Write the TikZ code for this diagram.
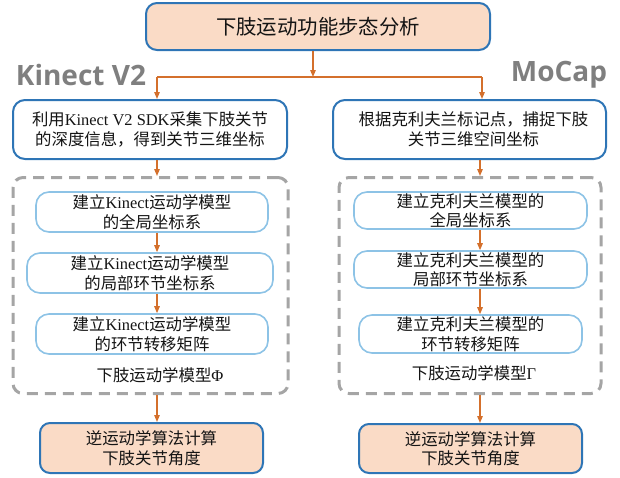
\documentclass[tikz,border=0pt]{standalone}
\usepackage{fontspec}
\setmainfont{Liberation Serif}
\newfontfamily\cjk{Noto Sans CJK SC}
\newfontfamily\lblfont{Open Sans}
\newcommand\latn[1]{{\rmfamily #1}}
\usetikzlibrary{arrows.meta}
\definecolor{arrorange}{HTML}{D4702C}
\definecolor{boxblue}{HTML}{2E75B6}
\definecolor{lightblue}{HTML}{8DC3E6}
\definecolor{peach}{HTML}{FADBC6}
\definecolor{dashgray}{HTML}{A5A5A5}
\definecolor{lblgray}{HTML}{7F7F7F}
\begin{document}
\begin{tikzpicture}[x=1pt,y=-1pt,
  txt/.style={font=\cjk\fontsize{16.4}{19.5}\selectfont, align=center, inner sep=0pt, text=black!92},
  peachbox/.style={txt, draw=boxblue, line width=2pt, fill=peach, rounded corners=11pt},
  whitebox/.style={txt, draw=boxblue, line width=2pt, fill=white, rounded corners=12pt},
  innerbox/.style={txt, draw=lightblue, line width=1.6pt, fill=white, rounded corners=13pt},
  groupbox/.style={draw=dashgray, line width=3pt, dash pattern=on 11pt off 7pt, rounded corners=10pt, inner sep=0pt},
  lbl/.style={font=\lblfont\bfseries\fontsize{28}{30}\selectfont, text=lblgray, inner sep=0pt},
  arr/.style={draw=arrorange, line width=1.3pt, -{Triangle[length=7pt,width=5.5pt]}},
  ln/.style={draw=arrorange, line width=1.3pt}
]
\useasboundingbox (0,0) rectangle (620,477);

% top
\node[peachbox, minimum width=344pt, minimum height=47pt, font=\cjk\fontsize{20.4}{24}\selectfont] (top) at (318,26.5) {下肢运动功能步态分析};

\node[lbl] (lk) at (81,75) {Kinect V2};
\node[lbl] (lm) at (559,75) {MoCap};

% second row
\node[whitebox, minimum width=274pt, minimum height=59pt] (kb) at (150,129.5)
  {利用\latn{Kinect V2 SDK}采集下肢关节\\的深度信息，得到关节三维坐标};
\node[whitebox, minimum width=273pt, minimum height=59pt] (mb) at (469.5,129.5)
  {\hspace{8pt}根据克利夫兰标记点，捕捉下肢\\\hspace{8pt}关节三维空间坐标};

% junction
\coordinate (jt) at (313,77);
\coordinate (jl) at (157,77);
\coordinate (jr) at (482,77);
\draw[arr] (top.south -| jt) -- (jt);
\draw[ln] (jl) -- (jr);
\draw[arr] (jl) -- (kb.north -| jl);
\draw[arr] (jr) -- (mb.north -| jr);

% groups
\node[groupbox, minimum width=275pt, minimum height=216pt] (kg) at (150.5,285.5) {};
\node[groupbox, minimum width=262pt, minimum height=216pt] (mg) at (470,285.5) {};

% left inner
\node[innerbox, minimum width=232pt, minimum height=40pt] (ka) at (152,212) {建立\latn{Kinect}运动学模型\\的全局坐标系};
\node[innerbox, minimum width=246pt, minimum height=40pt] (kbb) at (150,273) {建立\latn{Kinect}运动学模型\\的局部环节坐标系};
\node[innerbox, minimum width=232pt, minimum height=40pt] (kc) at (152,334) {建立\latn{Kinect}运动学模型\\的环节转移矩阵};
\node[txt] (kl) at (160,375) {下肢运动学模型\latn{Φ}};

% right inner
\node[innerbox, minimum width=233pt, minimum height=37pt] (ma) at (470.5,210.5) {建立克利夫兰模型的\\全局坐标系};
\node[innerbox, minimum width=233pt, minimum height=37pt] (mbb) at (470.5,269.5) {建立克利夫兰模型的\\局部环节坐标系};
\node[innerbox, minimum width=223pt, minimum height=38pt] (mc) at (470.5,334) {建立克利夫兰模型的\\环节转移矩阵};
\node[txt] (ml) at (474,373) {下肢运动学模型\latn{Γ}};

% bottom
\node[peachbox, minimum width=223pt, minimum height=50pt, rounded corners=10pt] (kd) at (151.5,448) {逆运动学算法计算\\下肢关节角度};
\node[peachbox, minimum width=223pt, minimum height=49pt, rounded corners=10pt] (md) at (470.5,448.5) {逆运动学算法计算\\下肢关节角度};

% arrows left
\coordinate (xl) at (157,0);
\coordinate (xr) at (480,0);
\draw[arr] (kb.south -| xl) -- (kg.north -| xl);
\draw[arr] (ka.south -| xl) -- (kbb.north -| xl);
\draw[arr] (kbb.south -| xl) -- (kc.north -| xl);
\draw[arr] (kg.south -| xl) -- (kd.north -| xl);
% arrows right
\draw[arr] (mb.south -| xr) -- (mg.north -| xr);
\draw[arr] (ma.south -| xr) -- (mbb.north -| xr);
\draw[arr] (mbb.south -| xr) -- (mc.north -| xr);
\draw[arr] (mg.south -| xr) -- (md.north -| xr);
\end{tikzpicture}
\end{document}
